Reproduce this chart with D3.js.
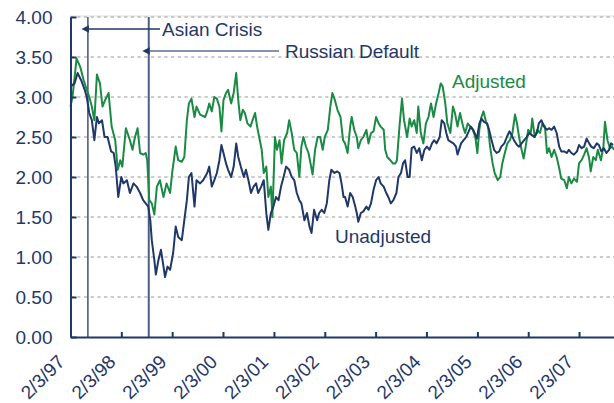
<!DOCTYPE html>
<html>
<head>
<meta charset="utf-8">
<script src="https://cdn.jsdelivr.net/npm/d3@7"></script>
<style>
  body { margin: 0; background: #fff; }
  svg { display: block; font-family: "Liberation Sans", Arial, sans-serif; }
</style>
</head>
<body>
<div class="chart"></div>
<script>
// dates as decimal years
var adjusted = [
  [1997.09,2.88],[1997.13,3.00],[1997.21,3.48],[1997.28,3.38],[1997.35,3.21],[1997.41,3.09],[1997.46,3.00],
  [1997.51,2.88],[1997.56,2.71],[1997.61,3.28],[1997.67,3.17],[1997.72,2.88],[1997.77,2.96],[1997.84,3.05],
  [1997.90,2.63],[1997.97,2.46],[1998.02,2.09],[1998.07,2.21],[1998.11,2.13],[1998.18,2.61],[1998.26,2.46],
  [1998.31,2.34],[1998.36,2.50],[1998.41,2.61],[1998.46,2.30],[1998.52,2.28],[1998.57,2.30],[1998.60,2.21],
  [1998.64,1.71],[1998.69,1.67],[1998.74,1.53],[1998.79,1.88],[1998.85,1.96],[1998.92,1.75],[1998.98,1.92],
  [1999.05,1.80],[1999.09,2.05],[1999.16,2.38],[1999.21,2.21],[1999.28,2.19],[1999.33,2.25],[1999.38,2.71],
  [1999.42,2.92],[1999.47,2.98],[1999.53,2.75],[1999.57,2.88],[1999.64,2.78],[1999.74,2.75],[1999.78,2.82],
  [1999.82,2.92],[1999.87,2.82],[1999.92,3.00],[1999.97,2.98],[2000.02,2.88],[2000.06,2.57],[2000.10,2.96],
  [2000.15,3.05],[2000.19,3.09],[2000.25,2.92],[2000.30,3.05],[2000.35,3.30],[2000.39,2.96],[2000.43,2.71],
  [2000.48,2.84],[2000.52,2.80],[2000.57,2.67],[2000.63,2.63],[2000.67,2.71],[2000.72,2.80],[2000.76,2.63],
  [2000.80,2.50],[2000.85,2.34],[2000.89,2.05],[2000.94,2.13],[2000.98,1.75],[2001.03,1.88],[2001.06,1.50],
  [2001.11,2.50],[2001.15,2.34],[2001.20,2.46],[2001.24,2.17],[2001.29,2.46],[2001.35,2.55],[2001.39,2.71],
  [2001.44,2.55],[2001.49,2.34],[2001.54,2.30],[2001.59,2.00],[2001.63,2.38],[2001.67,2.50],[2001.72,2.38],
  [2001.77,2.30],[2001.81,2.17],[2001.85,2.03],[2001.90,2.34],[2001.95,2.50],[2002.00,2.50],[2002.05,2.34],
  [2002.09,2.50],[2002.15,2.59],[2002.20,2.88],[2002.24,3.05],[2002.29,2.96],[2002.34,2.84],[2002.40,2.75],
  [2002.45,2.46],[2002.49,2.42],[2002.54,2.30],[2002.59,2.63],[2002.62,2.75],[2002.67,2.59],[2002.72,2.50],
  [2002.75,2.36],[2002.80,2.46],[2002.85,2.50],[2002.91,2.59],[2002.95,2.42],[2003.00,2.55],[2003.05,2.57],
  [2003.10,2.75],[2003.15,2.67],[2003.19,2.63],[2003.25,2.59],[2003.28,2.34],[2003.32,2.25],[2003.38,2.21],
  [2003.43,2.17],[2003.48,2.17],[2003.51,2.21],[2003.56,2.63],[2003.61,2.98],[2003.65,2.71],[2003.71,2.50],
  [2003.76,2.73],[2003.80,2.63],[2003.85,2.71],[2003.90,2.55],[2003.93,2.88],[2003.98,2.55],[2004.03,2.42],
  [2004.08,2.67],[2004.13,2.75],[2004.18,2.92],[2004.23,2.75],[2004.28,2.92],[2004.33,3.05],[2004.37,3.17],
  [2004.41,3.13],[2004.46,2.92],[2004.50,2.67],[2004.56,2.55],[2004.61,2.88],[2004.65,2.80],[2004.70,2.63],
  [2004.75,2.80],[2004.81,2.63],[2004.85,2.55],[2004.90,2.67],[2004.95,2.63],[2005.00,2.59],[2005.05,2.50],
  [2005.09,2.30],[2005.13,2.60],[2005.17,2.75],[2005.21,2.82],[2005.26,2.69],[2005.30,2.63],[2005.34,2.38],
  [2005.39,2.17],[2005.43,2.05],[2005.49,1.96],[2005.54,2.00],[2005.58,2.17],[2005.63,2.30],[2005.68,2.42],
  [2005.73,2.46],[2005.78,2.55],[2005.83,2.78],[2005.87,2.67],[2005.91,2.50],[2005.96,2.34],[2006.00,2.23],
  [2006.04,2.38],[2006.09,2.59],[2006.14,2.55],[2006.17,2.73],[2006.22,2.50],[2006.27,2.59],[2006.32,2.55],
  [2006.37,2.67],[2006.42,2.63],[2006.46,2.30],[2006.50,2.36],[2006.55,2.25],[2006.60,2.34],[2006.65,2.25],
  [2006.70,2.11],[2006.74,1.98],[2006.80,1.96],[2006.85,1.86],[2006.89,2.00],[2006.94,1.92],[2006.99,1.98],
  [2007.05,1.94],[2007.09,2.17],[2007.14,2.21],[2007.19,2.28],[2007.24,2.36],[2007.29,2.23],[2007.32,2.07],
  [2007.37,2.25],[2007.42,2.21],[2007.46,2.34],[2007.52,2.21],[2007.57,2.38],[2007.60,2.69],[2007.65,2.46],
  [2007.70,2.36],[2007.74,2.38],[2007.78,2.34]
];

var unadjusted = [
  [1997.09,3.13],[1997.17,3.17],[1997.23,3.30],[1997.30,3.21],[1997.37,3.09],[1997.41,3.00],[1997.46,2.80],
  [1997.51,2.71],[1997.56,2.46],[1997.61,2.75],[1997.65,2.67],[1997.71,2.71],[1997.76,2.50],[1997.82,2.50],
  [1997.89,2.32],[1997.94,2.30],[1997.98,2.13],[1998.03,1.75],[1998.09,2.00],[1998.13,1.92],[1998.20,1.96],
  [1998.26,1.80],[1998.33,1.92],[1998.39,1.88],[1998.46,1.80],[1998.52,1.71],[1998.57,1.67],[1998.62,1.63],
  [1998.66,1.46],[1998.69,1.21],[1998.74,0.96],[1998.77,0.78],[1998.82,0.96],[1998.87,1.09],[1998.92,0.88],
  [1998.95,0.75],[1999.00,0.88],[1999.05,0.84],[1999.11,1.05],[1999.16,1.38],[1999.21,1.25],[1999.28,1.21],
  [1999.33,1.46],[1999.38,1.71],[1999.42,2.00],[1999.47,2.05],[1999.53,1.63],[1999.57,1.96],[1999.64,1.92],
  [1999.70,1.96],[1999.78,2.05],[1999.82,2.13],[1999.87,1.88],[1999.92,1.96],[1999.97,2.05],[2000.02,2.21],
  [2000.06,2.40],[2000.10,2.30],[2000.15,2.17],[2000.19,2.09],[2000.25,2.00],[2000.30,2.13],[2000.35,2.42],
  [2000.39,2.25],[2000.44,2.13],[2000.50,2.00],[2000.54,2.09],[2000.59,1.96],[2000.64,1.80],[2000.69,1.88],
  [2000.74,1.92],[2000.78,1.80],[2000.84,1.88],[2000.89,1.96],[2000.94,1.55],[2000.98,1.34],[2001.03,1.55],
  [2001.08,1.63],[2001.13,1.75],[2001.18,1.71],[2001.23,1.88],[2001.28,2.00],[2001.33,2.13],[2001.39,2.09],
  [2001.44,2.00],[2001.49,1.96],[2001.54,1.80],[2001.59,1.71],[2001.63,1.67],[2001.69,1.46],[2001.74,1.55],
  [2001.79,1.38],[2001.83,1.30],[2001.88,1.59],[2001.94,1.46],[2001.98,1.55],[2002.03,1.59],[2002.08,1.55],
  [2002.13,1.67],[2002.18,1.96],[2002.22,2.09],[2002.28,2.05],[2002.33,2.07],[2002.38,2.05],[2002.42,1.92],
  [2002.46,1.75],[2002.49,1.75],[2002.54,1.63],[2002.59,1.80],[2002.64,1.75],[2002.69,1.63],[2002.72,1.55],
  [2002.75,1.44],[2002.80,1.55],[2002.85,1.57],[2002.91,1.63],[2002.95,1.59],[2003.00,1.67],[2003.05,1.84],
  [2003.10,1.96],[2003.15,2.00],[2003.19,1.92],[2003.25,1.88],[2003.30,1.80],[2003.34,1.75],[2003.39,1.67],
  [2003.44,1.71],[2003.50,1.80],[2003.54,2.00],[2003.59,2.05],[2003.63,2.17],[2003.67,2.21],[2003.72,2.00],
  [2003.76,2.00],[2003.80,2.36],[2003.85,2.38],[2003.90,2.30],[2003.95,2.36],[2004.00,2.21],[2004.05,2.34],
  [2004.10,2.38],[2004.15,2.34],[2004.20,2.42],[2004.24,2.46],[2004.29,2.42],[2004.35,2.50],[2004.39,2.71],
  [2004.44,2.67],[2004.48,2.55],[2004.52,2.46],[2004.57,2.44],[2004.62,2.42],[2004.67,2.38],[2004.70,2.28],
  [2004.77,2.42],[2004.82,2.46],[2004.87,2.50],[2004.92,2.57],[2004.96,2.63],[2005.01,2.59],[2005.08,2.48],
  [2005.13,2.67],[2005.17,2.73],[2005.22,2.69],[2005.28,2.67],[2005.32,2.59],[2005.37,2.46],[2005.42,2.34],
  [2005.47,2.30],[2005.52,2.32],[2005.56,2.38],[2005.62,2.42],[2005.67,2.50],[2005.72,2.57],[2005.76,2.53],
  [2005.81,2.46],[2005.87,2.40],[2005.91,2.38],[2005.96,2.42],[2006.01,2.46],[2006.06,2.50],[2006.11,2.55],
  [2006.15,2.53],[2006.21,2.50],[2006.26,2.55],[2006.30,2.67],[2006.35,2.71],[2006.40,2.63],[2006.46,2.59],
  [2006.50,2.61],[2006.55,2.59],[2006.60,2.63],[2006.65,2.55],[2006.70,2.38],[2006.74,2.32],[2006.80,2.32],
  [2006.85,2.30],[2006.89,2.34],[2006.94,2.30],[2006.99,2.28],[2007.05,2.32],[2007.09,2.40],[2007.14,2.36],
  [2007.19,2.38],[2007.24,2.48],[2007.29,2.42],[2007.33,2.38],[2007.38,2.36],[2007.44,2.42],[2007.48,2.40],
  [2007.53,2.32],[2007.58,2.36],[2007.63,2.30],[2007.68,2.34],[2007.72,2.42],[2007.76,2.40]
];

var yTicks = [0, 0.5, 1, 1.5, 2, 2.5, 3, 3.5, 4];
var xTickYears = [1997, 1998, 1999, 2000, 2001, 2002, 2003, 2004, 2005, 2006, 2007];

var events = [
  {name: "Asian Crisis", date: new Date(1997, 5, 8)},
  {name: "Russian Default", date: new Date(1998, 7, 19)}
];

var navy = "#1f3868";
var green = "#1b8a45";

const toDate = function(yv) {
  var yr = Math.floor(yv);
  var a = new Date(yr, 0, 1), b = new Date(yr + 1, 0, 1);
  return new Date(+a + (yv - yr) * (b - a));
}

var width = 614, height = 403;
var plotL = 70.5, plotR = 614, plotT = 17, plotB = 337;

const svg = d3.select(".chart").append("svg")
  .attr("width", width)
  .attr("height", height);

var x = d3.scaleTime()
  .domain([new Date(1997, 1, 3), new Date(2007, 9, 12)])
  .range([plotL, plotR]);

var y = d3.scaleLinear()
  .domain([0, 4])
  .range([plotB, plotT]);

// light top border of the plot area
svg.append("line")
  .attr("x1", plotL).attr("x2", plotR)
  .attr("y1", plotT - 1).attr("y2", plotT - 1)
  .style("stroke", "#dedede")
  .style("stroke-width", 1);

// dashed gridlines
svg.append("g").selectAll("line")
  .data(yTicks.filter((d) => d > 0))
  .enter()
  .append("line")
  .attr("x1", plotL)
  .attr("x2", plotR)
  .attr("y1", (d) => y(d))
  .attr("y2", (d) => y(d))
  .style("stroke", "#bbbbbb")
  .style("stroke-width", 1.5)
  .style("stroke-dasharray", "3.3,3.4");

// event lines
svg.append("g").selectAll("line")
  .data(events)
  .enter()
  .append("line")
  .attr("x1", (d) => x(d.date))
  .attr("x2", (d) => x(d.date))
  .attr("y1", plotT)
  .attr("y2", plotB)
  .style("stroke", (d, i) => i == 0 ? navy : "#4c5f82")
  .style("stroke-width", (d, i) => i == 0 ? 1.3 : 2);

var line = d3.line()
  .x((d) => x(toDate(d[0])))
  .y((d) => y(d[1]));

svg.append("path")
  .datum(adjusted)
  .attr("d", line)
  .style("fill", "none")
  .style("stroke", green)
  .style("stroke-width", 2)
  .style("stroke-linejoin", "round");

svg.append("path")
  .datum(unadjusted)
  .attr("d", line)
  .style("fill", "none")
  .style("stroke", navy)
  .style("stroke-width", 2)
  .style("stroke-linejoin", "round");

// axes
var fmt = d3.timeFormat("%-m/%-d/%y");
var xAxis = svg.append("g")
  .attr("transform", "translate(0," + plotB + ")")
  .call(d3.axisBottom(x)
    .tickValues(xTickYears.map((yr) => new Date(yr, 1, 3)))
    .tickFormat(fmt)
    .tickSizeInner(-5)
    .tickSizeOuter(0));

xAxis.selectAll("text")
  .attr("x", 0)
  .attr("y", 0)
  .attr("dy", 0)
  .attr("text-anchor", "end")
  .attr("transform", "translate(-5,26) rotate(-45)");

var yAxis = svg.append("g")
  .attr("transform", "translate(" + plotL + ",0)")
  .call(d3.axisLeft(y)
    .tickValues(yTicks)
    .tickFormat(d3.format(".2f"))
    .tickSizeInner(-6)
    .tickSizeOuter(0)
    .tickPadding(18));

svg.selectAll(".domain, .tick line")
  .style("stroke", navy)
  .style("stroke-width", 2);
svg.selectAll(".tick text")
  .style("fill", navy)
  .style("font-size", "19px")
  .style("font-family", "'Liberation Sans', Arial, sans-serif");

// arrows and labels
svg.append("defs").append("marker")
  .attr("id", "arr")
  .attr("viewBox", "0 0 10 10")
  .attr("refX", 0)
  .attr("refY", 5)
  .attr("markerWidth", 7)
  .attr("markerHeight", 5)
  .attr("orient", "auto-start-reverse")
  .append("path")
  .attr("d", "M0,0L10,5L0,10z")
  .style("fill", navy);

var labelInfo = [
  {ev: 0, ay: 29, x2: 160, tx: 162, ty: 36},
  {ev: 1, ay: 51, x2: 279, tx: 285, ty: 58}
];

labelInfo.forEach((l, i) => {
  svg.append("line")
    .attr("x1", x(events[l.ev].date) + 1)
    .attr("x2", l.x2)
    .attr("y1", l.ay)
    .attr("y2", l.ay)
    .attr("marker-start", "url(#arr)")
    .style("stroke", i == 0 ? navy : "#5d6f90")
    .style("stroke-width", 1.5);
  svg.append("text")
    .attr("x", l.tx)
    .attr("y", l.ty)
    .text(events[l.ev].name)
    .attr("font-size", "19px")
    .attr("fill", navy);
});

svg.append("text")
  .attr("x", 452).attr("y", 88)
  .text("Adjusted")
  .attr("font-size", "19px")
  .attr("fill", green);

svg.append("text")
  .attr("x", 335).attr("y", 243)
  .text("Unadjusted")
  .attr("font-size", "19px")
  .attr("fill", navy);
</script>
</body>
</html>
